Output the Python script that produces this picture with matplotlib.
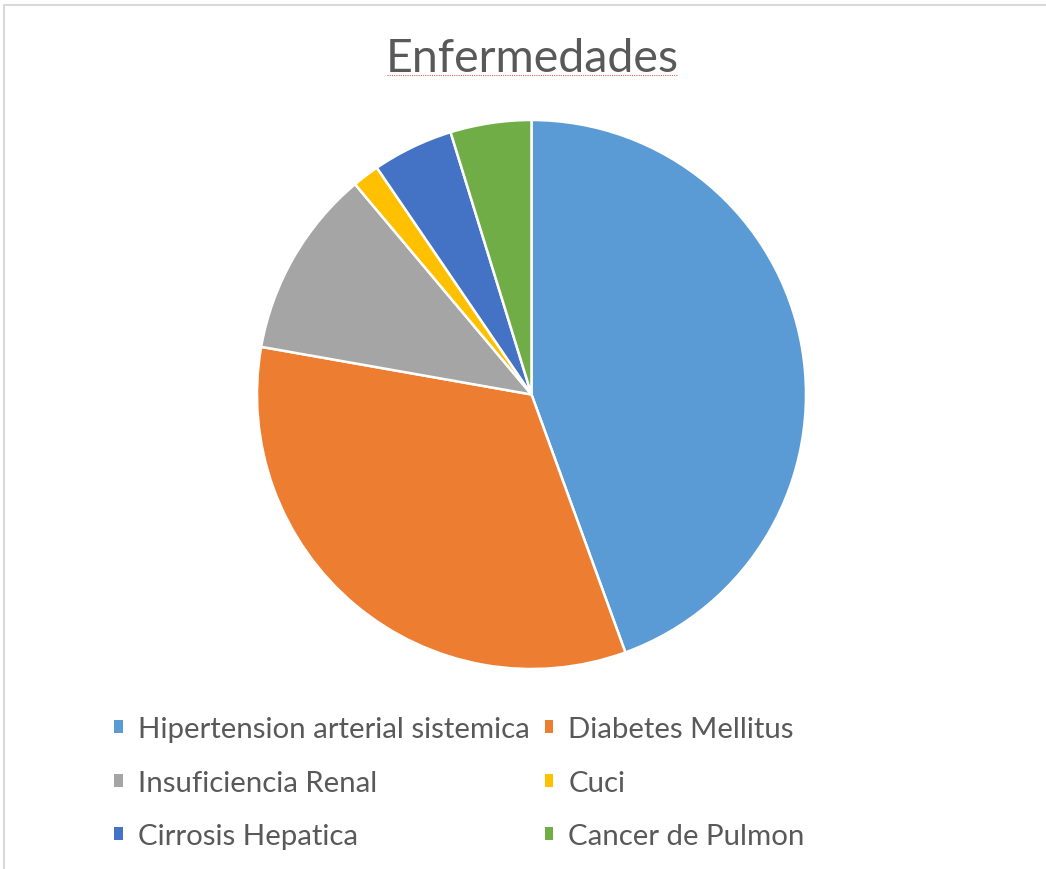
import matplotlib
matplotlib.use("Agg")
import matplotlib.pyplot as plt
from matplotlib.patches import Rectangle
from matplotlib.lines import Line2D

# datos de la grafica
labels = ["Hipertension arterial sistemica", "Diabetes Mellitus", "Insuficiencia Renal",
          "Cuci", "Cirrosis Hepatica", "Cancer de Pulmon"]
counts = [28, 21, 7, 1, 3, 3]
colors = ["#5B9BD5", "#ED7D31", "#A5A5A5", "#FFC000", "#4472C4", "#70AD47"]

plt.rcParams["font.family"] = ["Lato", "DejaVu Sans"]
textcolor = "#595959"

fig = plt.figure(figsize=(10.46, 8.7), dpi=100)

# marco gris del area del grafico
fig.add_artist(Rectangle((4 / 1046, -0.1), 1.1, 1.1 - 6 / 870, transform=fig.transFigure,
                         facecolor="none", edgecolor="#D9D9D9", linewidth=1.5))

ax = fig.add_axes([257 / 1046, 200 / 870, 549 / 1046, 549 / 870])
wedges, _ = ax.pie(counts, colors=colors, startangle=90, counterclock=False,
                   wedgeprops=dict(edgecolor="white", linewidth=1.8))
ax.set_xlim(-1.0, 1.0)
ax.set_ylim(-1.0, 1.0)
ax.set_aspect("equal")

fig.text(532 / 1046, 1 - 59 / 870, "Enfermedades", ha="center", va="center",
         fontsize=33.6, color=textcolor)
# subrayado del corrector
fig.add_artist(Line2D([387 / 1046, 678 / 1046], [1 - 76 / 870] * 2, transform=fig.transFigure,
                      color="#E06060", linewidth=0.8, linestyle=(0, (1, 1))))

# excel ordena la leyenda por filas
order = [0, 2, 4, 1, 3, 5]
leg = fig.legend([wedges[i] for i in order], [labels[i] for i in order], ncol=2,
                 loc="upper left", bbox_to_anchor=(114 / 1046, 1 - 717 / 870),
                 frameon=False, fontsize=21.2, labelcolor=textcolor,
                 handlelength=0.3, handleheight=0.3, handletextpad=0.5,
                 columnspacing=0.52, labelspacing=0.94, borderpad=0, borderaxespad=0)
for h in leg.legend_handles:
    h.set_linewidth(0)

fig.savefig("out.png", dpi=100)
